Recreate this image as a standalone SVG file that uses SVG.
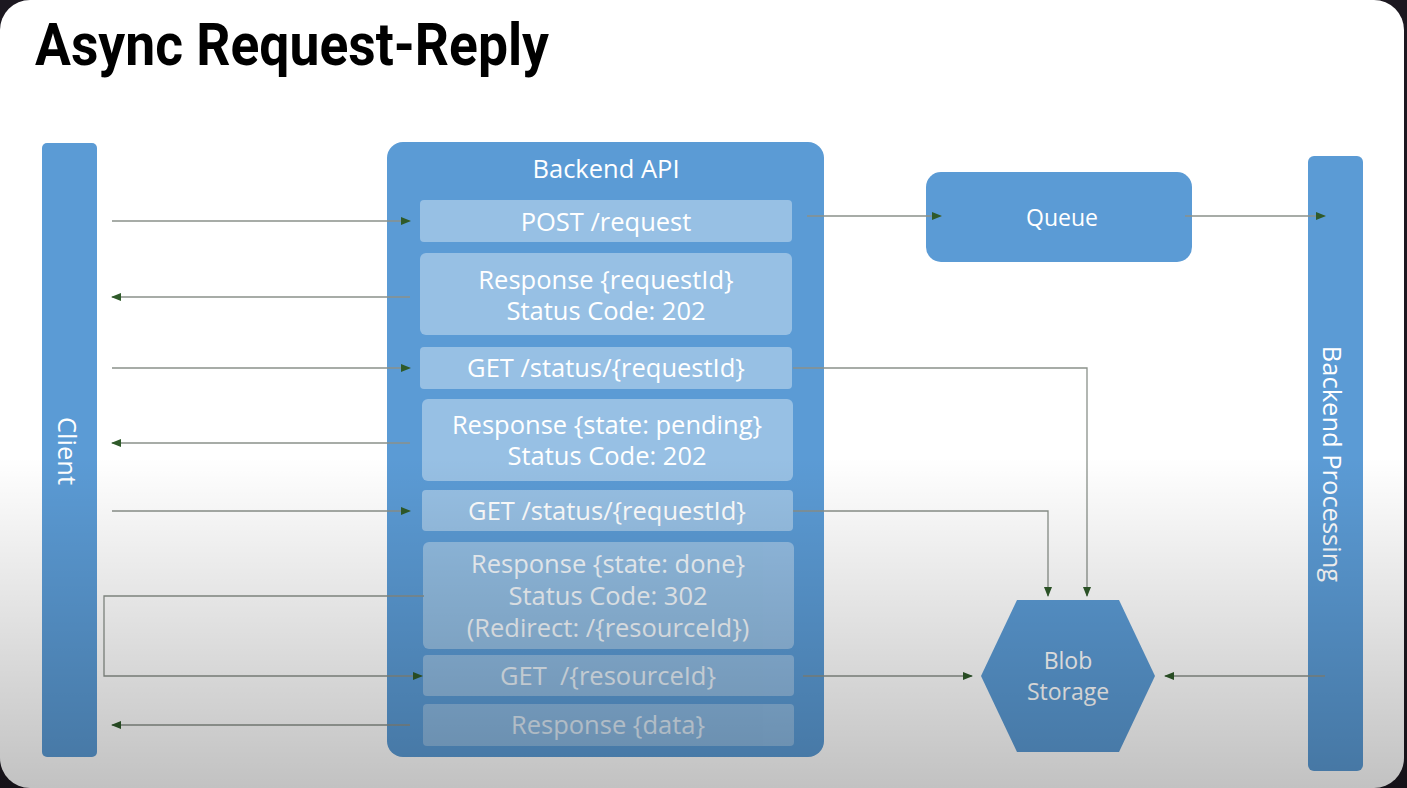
<svg xmlns="http://www.w3.org/2000/svg" width="1407" height="788" viewBox="0 0 1407 788">
  <defs>
    <linearGradient id="shade" x1="0" y1="0" x2="0" y2="788" gradientUnits="userSpaceOnUse">
      <stop offset="0" stop-color="#000" stop-opacity="0"/>
      <stop offset="0.58" stop-color="#000" stop-opacity="0"/>
      <stop offset="1" stop-color="#000" stop-opacity="0.24"/>
    </linearGradient>
    <marker id="arr" viewBox="0 0 10 10" refX="9" refY="5" markerWidth="10" markerHeight="10" markerUnits="userSpaceOnUse" orient="auto">
      <path d="M0,1 L10,5 L0,9 Z" fill="#2f5a2a"/>
    </marker>
  </defs>
  <style>
    .bar { fill: #5b9bd5; }
    .inner { fill: #ffffff; fill-opacity: 0.37; }
    .t { font-family: "Open Sans", "Noto Sans", "DejaVu Sans", sans-serif; font-size: 25.5px; fill: #ffffff; text-anchor: middle; }
    .s { font-size: 23px; }
    .conn { fill: none; stroke: #8a918a; stroke-width: 1.3; }
  </style>
  <rect x="0" y="0" width="1407" height="788" fill="#1c1820"/>
  <rect x="0" y="0" width="1404" height="788" rx="30" fill="#ffffff"/>

  <text x="35" y="65" textLength="514" lengthAdjust="spacingAndGlyphs" font-family="Roboto, 'Liberation Sans', sans-serif" font-weight="bold" font-size="59" fill="#000">Async Request-Reply</text>

  <g id="client">
    <rect class="bar" x="42" y="143" width="55" height="614" rx="5"/>
    <text class="t" transform="translate(58,451) rotate(90)">Client</text>
  </g>

  <g id="backend-api">
    <rect class="bar" x="387" y="142" width="437" height="615" rx="16"/>
    <text class="t" x="606" y="178">Backend API</text>
  </g>

  <g id="post-request">
    <rect class="inner" x="420" y="200" width="372" height="42" rx="4"/>
    <text class="t" x="606" y="231" font-size="26.5">POST /request</text>
  </g>
  <g id="resp-requestid">
    <rect class="inner" x="420" y="253" width="372" height="82" rx="6"/>
    <text class="t" x="606" y="289">Response {requestId}</text>
    <text class="t" x="606" y="320">Status Code: 202</text>
  </g>
  <g id="get-status-1">
    <rect class="inner" x="420" y="347" width="372" height="42" rx="4"/>
    <text class="t" x="606" y="377" font-size="26">GET /status/{requestId}</text>
  </g>
  <g id="resp-pending">
    <rect class="inner" x="422" y="399" width="371" height="82" rx="6"/>
    <text class="t" x="607" y="434">Response {state: pending}</text>
    <text class="t" x="607" y="465">Status Code: 202</text>
  </g>
  <g id="get-status-2">
    <rect class="inner" x="422" y="490" width="371" height="41" rx="4"/>
    <text class="t" x="607" y="520" font-size="26">GET /status/{requestId}</text>
  </g>
  <g id="resp-done" opacity="0.92">
    <rect class="inner" x="423" y="542" width="371" height="107" rx="6"/>
    <text class="t" x="608" y="573">Response {state: done}</text>
    <text class="t" x="608" y="605">Status Code: 302</text>
    <text class="t" x="608" y="637">(Redirect: /{resourceId})</text>
  </g>
  <g id="get-resource" opacity="0.85">
    <rect class="inner" x="423" y="655" width="371" height="41" rx="4"/>
    <text class="t" x="608" y="685" font-size="26" xml:space="preserve">GET  /{resourceId}</text>
  </g>
  <g id="resp-data" opacity="0.78">
    <rect class="inner" x="423" y="704" width="371" height="42" rx="4"/>
    <text class="t" x="608" y="734">Response {data}</text>
  </g>

  <g id="queue">
    <rect class="bar" x="926" y="172" width="266" height="90" rx="15"/>
    <text class="t s" x="1062" y="226">Queue</text>
  </g>

  <g id="backend-processing">
    <rect class="bar" x="1308" y="156" width="55" height="615" rx="6"/>
    <text class="t" font-size="27" transform="translate(1323,464) rotate(90)">Backend Processing</text>
  </g>

  <g id="blob-storage">
    <polygon class="bar" points="1017,600 1119,600 1155,676 1119,752 1017,752 981,676" fill="#4f8fca"/>
    <text class="t s" x="1068" y="669">Blob</text>
    <text class="t s" x="1068" y="700">Storage</text>
  </g>

  <g id="connectors">
    <line class="conn" x1="112" y1="221" x2="410" y2="221" marker-end="url(#arr)"/>
    <line class="conn" x1="410" y1="297" x2="112" y2="297" marker-end="url(#arr)"/>
    <line class="conn" x1="112" y1="368" x2="410" y2="368" marker-end="url(#arr)"/>
    <line class="conn" x1="410" y1="443" x2="112" y2="443" marker-end="url(#arr)"/>
    <line class="conn" x1="112" y1="511" x2="410" y2="511" marker-end="url(#arr)"/>
    <polyline class="conn" points="424,596 104,596 104,676 422,676" marker-end="url(#arr)"/>
    <line class="conn" x1="410" y1="725" x2="112" y2="725" marker-end="url(#arr)"/>
    <line class="conn" x1="807" y1="216" x2="941" y2="216" marker-end="url(#arr)"/>
    <line class="conn" x1="1185" y1="216" x2="1325" y2="216" marker-end="url(#arr)"/>
    <polyline class="conn" points="793,368 1087,368 1087,596" marker-end="url(#arr)"/>
    <polyline class="conn" points="793,511 1048,511 1048,596" marker-end="url(#arr)"/>
    <line class="conn" x1="803" y1="676" x2="972" y2="676" marker-end="url(#arr)"/>
    <line class="conn" x1="1325" y1="676" x2="1165" y2="676" marker-end="url(#arr)"/>
  </g>

  <rect x="0" y="0" width="1407" height="788" fill="url(#shade)" pointer-events="none"/>
</svg>
